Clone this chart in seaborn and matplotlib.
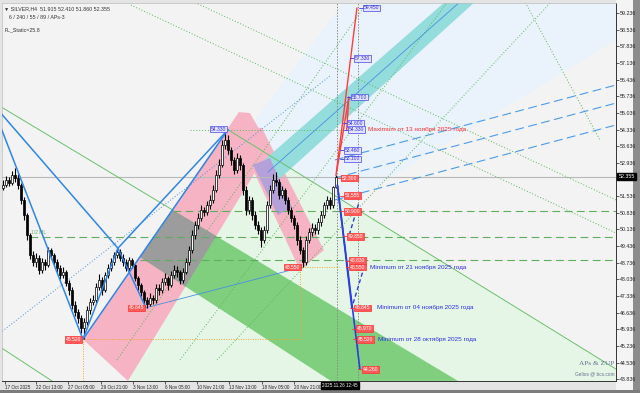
import numpy as np
import pandas as pd
import matplotlib
matplotlib.use("Agg")
import matplotlib.pyplot as plt
import matplotlib.transforms as mtrans
from matplotlib.patches import Polygon, Rectangle
import seaborn as sns

# ---------------- candle data (SILVER, H4) ----------------
closes = [52.01, 52.22, 52.09, 52.43, 52.30, 52.01, 51.38, 50.74, 49.90, 49.06,
          48.77, 48.94, 48.43, 48.77, 48.64, 49.27, 49.06, 48.77, 48.52, 48.22,
          48.35, 47.89, 47.59, 46.96, 46.67, 46.41, 45.99, 46.25, 46.75, 47.09,
          47.17, 47.72, 48.01, 47.59, 48.22, 48.52, 48.77, 49.06, 49.19, 48.94,
          48.77, 48.52, 48.85, 48.64, 48.10, 47.80, 47.51, 47.17, 47.00, 47.26,
          47.17, 47.68, 47.59, 47.93, 48.10, 47.80, 48.22, 48.43, 48.35, 48.01,
          48.35, 48.77, 49.27, 49.90, 50.32, 50.62, 50.95, 50.87, 51.16, 51.38,
          51.80, 52.43, 52.85, 53.69, 53.90, 53.48, 53.06, 52.64, 53.14, 52.85,
          51.80, 50.95, 51.38, 50.74, 50.32, 50.11, 49.69, 50.11, 51.16, 51.80,
          52.22, 52.13, 51.59, 51.80, 51.38, 50.95, 50.62, 50.32, 49.69, 49.27,
          48.77, 49.69, 50.03, 50.20, 50.11, 50.44, 50.74, 51.16, 51.38, 51.16,
          51.915, 52.355]
highs = [52.20, 52.40, 52.35, 52.60, 52.72, 52.45, 52.10, 51.50, 50.85, 50.00,
         49.25, 49.15, 49.05, 48.95, 48.90, 49.40, 49.35, 49.15, 48.90, 48.65,
         48.55, 48.45, 48.00, 47.70, 47.15, 46.80, 46.55, 46.40, 46.90, 47.25,
         47.40, 47.90, 48.25, 48.15, 48.35, 48.70, 48.95, 49.20, 49.35, 49.30,
         49.10, 48.90, 49.00, 48.95, 48.70, 48.20, 47.90, 47.60, 47.30, 47.45,
         47.40, 47.85, 47.85, 48.10, 48.30, 48.20, 48.40, 48.65, 48.60, 48.45,
         48.50, 48.95, 49.45, 50.10, 50.50, 50.85, 51.15, 51.10, 51.35, 51.60,
         52.00, 52.65, 53.10, 53.90, 54.33, 54.10, 53.60, 53.20, 53.35, 53.25,
         52.95, 51.95, 51.55, 51.50, 50.90, 50.50, 50.25, 50.30, 51.35, 52.00,
         52.45, 52.55, 52.25, 51.95, 51.90, 51.50, 51.10, 50.75, 50.45, 49.85,
         49.40, 49.85, 50.20, 50.40, 50.35, 50.60, 50.90, 51.30, 51.55, 51.50,
         51.95, 52.41]
lows = [51.80, 51.92, 51.95, 52.00, 52.15, 51.85, 51.20, 50.55, 49.70, 48.90,
        48.60, 48.55, 48.25, 48.30, 48.45, 48.55, 48.90, 48.60, 48.35, 48.05,
        48.10, 47.75, 47.40, 46.80, 46.50, 46.20, 45.80, 45.52, 46.10, 46.60,
        46.95, 47.05, 47.60, 47.40, 47.50, 48.10, 48.40, 48.65, 48.95, 48.80,
        48.60, 48.40, 48.40, 48.50, 47.95, 47.60, 47.35, 47.00, 46.85, 46.90,
        47.00, 47.05, 47.40, 47.45, 47.80, 47.60, 47.70, 48.10, 48.15, 47.85,
        47.90, 48.25, 48.65, 49.15, 49.75, 50.15, 50.50, 50.70, 50.75, 51.00,
        51.25, 51.70, 52.30, 52.75, 53.50, 53.30, 52.85, 52.45, 52.50, 52.65,
        51.60, 50.75, 50.80, 50.55, 50.15, 49.95, 49.40, 49.55, 50.00, 51.05,
        51.65, 51.95, 51.40, 51.45, 51.20, 50.80, 50.45, 50.15, 49.50, 49.10,
        48.55, 48.65, 49.55, 49.85, 49.95, 49.95, 50.30, 50.60, 51.00, 51.00,
        51.05, 51.86]
first_open = 51.90
last_price = 52.355

price_ticks = [59.236, 58.536, 57.836, 57.136, 56.436, 55.736, 55.036, 54.336,
               53.636, 52.936, 51.536, 50.836, 50.136, 49.436, 48.736, 48.036,
               47.336, 46.636, 45.936, 45.236, 44.536, 43.836]
time_labels = ["17 Oct 2025", "22 Oct 13:00", "27 Oct 05:00", "29 Oct 21:00",
               "3 Nov 13:00", "6 Nov 05:00", "10 Nov 21:00", "13 Nov 13:00",
               "18 Nov 05:00", "20 Nov 21:00"]
time_label_bars = [0.7, 11, 21.7, 32.7, 43.3, 54, 64.7, 75.3, 86.3, 97]
cursor_bar = 106.4
cursor_label = "2025.11.26 12:45"

# ---------------- drawn analysis objects (bar index, price) ----------------
pink_band1 = [(26.67, 45.52), (78.67, 55.07), (82.33, 55.03), (89.0, 53.56), (41.67, 43.77)]
pink_band2 = [(76.33, 54.53), (86.33, 54.40), (107.0, 49.27), (99.0, 48.43)]
green_band = [(56.67, 50.95), (151.67, 43.77), (109.33, 43.77), (45.67, 48.98)]
pale_green = [(75.0, 54.33), (204.33, 44.27), (204.33, 43.77), (41.67, 43.77)]
cyan_band = [(86.33, 52.97), (148.0, 59.78), (158.0, 59.78), (90.67, 52.09)]
lilac_band = [(83.33, 52.85), (89.0, 53.14), (96.33, 51.08), (91.67, 50.74)]
pale_blue = [(79.0, 53.90), (114.0, 59.78), (204.33, 59.78), (204.33, 58.10), (109.0, 50.74)]

zig_bars = [26.67, 38.33, 47.67]
zig_prices = [45.52, 49.35, 46.845]
blue_lines = [[(-1, 54.53), (26.67, 45.52)],
              [(-1, 55.07), (38.33, 49.35)],
              [(26.67, 45.52), (75.0, 54.33)],
              [(38.33, 49.35), (75.0, 54.33)]]
blue_thin = [[(47.67, 46.845), (99.67, 48.55)],
             [(88.33, 52.55), (153.0, 59.78)]]
blue_dashed = [[(110.67, 53.06), (204.33, 56.21)],
               [(110.67, 52.30), (204.33, 55.45)],
               [(110.67, 51.38), (204.33, 54.53)]]
green_dotted = [[(42.67, 59.57), (204.33, 49.99)],
                [(62.33, 59.78), (204.33, 51.38)],
                [(38.0, 44.65), (122.0, 59.78)],
                [(59.0, 44.65), (148.67, 59.78)],
                [(71.33, 44.65), (183.33, 59.78)],
                [(173.67, 59.78), (199.0, 53.90)]]
blue_dotted = [[(-1, 45.78), (109.0, 56.59)]]
green_thin = [[(75.0, 54.33), (204.33, 44.27)],
              [(-1, 55.32), (56.67, 50.95)],
              [(-1, 45.20), (16.33, 43.77)]]
ml_levels = [50.91, 49.82, 48.85]
ml_starts = [56.67, 9.0, 45.67]
orange_path = [(26.67, 43.77), (26.67, 45.52), (99.0, 45.52), (99.0, 48.55)]
orange_tail = [(99.67, 48.55), (112.0, 48.55)]
max_level_line = [(62.3, 54.33), (114.0, 54.33)]
vertical_marks = [111.33, 118.33]

red_rays = [[(111.0, 52.40), (118.0, 59.45)],
            [(111.3, 52.60), (115.3, 55.70)],
            [(115.3, 55.70), (114.6, 54.33)]]
blue_rays = [[(111.5, 52.00), (119.0, 44.26)],
             [(111.5, 52.00), (116.3, 46.845)]]
blue_ray_dashed = [[(118.5, 51.20), (115.3, 49.85)],
                   [(120.5, 48.60), (116.3, 46.845)]]

blue_label_prices = [59.450, 57.330, 55.700, 54.600, 54.330, 53.460, 53.100]
blue_label_bars = [120.3, 117.3, 116.3, 115.0, 115.3, 114.0, 114.0]
red_label_prices = [52.300, 51.555, 50.900, 49.850, 48.830, 48.550, 46.845, 45.970, 45.520, 44.260]
red_label_bars = [113.0, 114.0, 114.0, 115.0, 115.7, 115.7, 117.3, 118.0, 118.3, 120.0]
pivot_labels = ["45.520", "46.845", "48.550"]
pivot_bars = [26.2, 47.2, 99.2]
pivot_prices = [45.52, 46.845, 48.55]
peak_label = ("54.330", 74.4, 54.36)

notes = ["Maximum от 13 ноября 2025 года", "Minimum от 21 ноября 2025 года",
         "Minimum от 04 ноября 2025 года", "Minimum от 28 октября 2025 года"]
note_bars = [121.7, 122.3, 124.7, 125.0]
note_prices = [54.33, 48.55, 46.845, 45.52]
note_colors = ["#FF2B2B", "#2E2EE6", "#2E2EE6", "#2E2EE6"]

# ---------------- figure ----------------
sns.set_theme(style="white")
plt.rcParams['font.family'] = ['Liberation Sans', 'DejaVu Sans']

fig = plt.figure(figsize=(6.4, 3.93), dpi=100, facecolor="#E4E4E4")
ax = fig.add_axes([0.003, 0.0305, 0.9594, 0.9618])
ax.set_facecolor("#F3F3F3")
ax.set_xlim(-0.333, 204.333)
ax.set_ylim(43.766, 59.657)

# frame decorations of the terminal window (behind the axes)
fig.patches.append(Rectangle((616 / 640, 3 / 393), 17 / 640, 390 / 393, transform=fig.transFigure,
                             fc="#F4F4F4", ec="none", zorder=-3))
fig.patches.append(Rectangle((633 / 640, 0), 7 / 640, 1, transform=fig.transFigure,
                             fc="#8C8C8C", ec="none", zorder=-2))
fig.patches.append(Rectangle((0, 0), 1, 3 / 393, transform=fig.transFigure,
                             fc="#7C7C7C", ec="none", zorder=-2))


def poly(pts, color, z, alpha=1.0):
    p = Polygon(pts, closed=True, fc=color, ec="none", zorder=z, alpha=alpha)
    ax.add_patch(p)
    return p


poly(pale_blue, "#EAF3FB", 0.5)
poly(pale_green, "#E6F6E6", 0.6)
pk1 = poly(pink_band1, "#F6B3C3", 1.0)
pk2 = poly(pink_band2, "#F6B3C3", 1.0)
poly(green_band, "#7FCF7F", 1.1)
gray = poly(green_band, "#9C9C9C", 1.2)
gray.set_clip_path(pk1)
poly(cyan_band, "#95DCDC", 1.1)
poly(lilac_band, "#B4A1DA", 1.3)


def seg(pts, **kw):
    xs, ys = zip(*pts)
    ax.plot(xs, ys, **kw)


for L in green_dotted:
    seg(L, color="#59B659", lw=0.7, ls=(0, (1, 2)), zorder=2)
for L in blue_dotted:
    seg(L, color="#4A90E2", lw=0.7, ls=(0, (1, 2)), zorder=2)
for L in green_thin:
    seg(L, color="#6CC06C", lw=0.7, zorder=2)
for L in blue_dashed:
    seg(L, color="#4C9BEA", lw=0.8, ls=(0, (8, 4)), zorder=2)
for L in blue_thin:
    seg(L, color="#4A90E2", lw=0.6, zorder=2)

# horizontal levels
ax.axhline(last_price, color="#B8B8B8", lw=0.8, zorder=1.5)
for lvl, st in zip(ml_levels, ml_starts):
    ax.plot([st, 204.333], [lvl, lvl], color="#5FAE5F", lw=0.8, ls=(0, (7, 4)), zorder=2)
ax.text(9.5, 49.95, "1/2 ML", color="#5FAE5F", fontsize=3.6, zorder=3)
seg(max_level_line, color="#5FB85F", lw=0.7, ls=(0, (1, 2)), zorder=2)
seg(orange_path, color="#F5A623", lw=0.7, ls=(0, (1, 1.5)), zorder=2)
seg(orange_tail, color="#F5A623", lw=0.7, ls=(0, (1, 1.5)), zorder=2)
for vb in vertical_marks:
    ax.axvline(vb, color="#8A8A8A", lw=0.7, ls=(0, (1.5, 1.5)), zorder=2)

# candles
n = len(closes)
opens = [first_open] + closes[:-1]
df = pd.DataFrame(dict(bar=np.arange(n), open=opens, high=highs, low=lows, close=closes))
ax.vlines(df.bar, df.low, df.high, color="black", lw=0.8, zorder=5)
up = df.close >= df.open
ax.bar(df.bar[up], (df.close - df.open)[up], bottom=df.open[up], width=0.72,
       color="white", edgecolor="black", lw=0.5, zorder=6)
ax.bar(df.bar[~up], (df.close - df.open)[~up], bottom=df.open[~up], width=0.72,
       color="black", edgecolor="black", lw=0.5, zorder=6)

# zigzag / pattern lines (seaborn)
zz = pd.DataFrame({"bar": zig_bars, "price": zig_prices})
sns.lineplot(data=zz, x="bar", y="price", sort=False, estimator=None, color="#2F86E8",
             lw=1.1, ax=ax, zorder=7)
for L in blue_lines:
    d = pd.DataFrame(L, columns=["bar", "price"])
    sns.lineplot(data=d, x="bar", y="price", sort=False, estimator=None, color="#2F86E8",
                 lw=1.1, ax=ax, zorder=7)

# projection rays on the right
for L in red_rays:
    seg(L, color="#FF3B3B", lw=1.0, zorder=7)
for L in blue_rays:
    seg(L, color="#2B3FE0", lw=1.2, zorder=7)
for L in blue_ray_dashed:
    seg(L, color="#2B3FE0", lw=1.0, ls=(0, (3, 2)), zorder=7)

lab_kw = dict(fontsize=3.6, va="center", zorder=9)
for b, p in zip(blue_label_bars, blue_label_prices):
    ax.plot([b - 1.5, b], [p, p], color="#3A3AE8", lw=0.6, zorder=8)
    ax.text(b, p, f"{p:.3f}", ha="left", color="#3434D8",
            bbox=dict(boxstyle="square,pad=0.15", fc="#E4E4FF", ec="#4646F0", lw=0.5), **lab_kw)
for b, p in zip(red_label_bars, red_label_prices):
    ax.plot([b - 1.5, b], [p, p], color="#FF3030", lw=0.6, zorder=8)
    ax.text(b, p, f"{p:.3f}", ha="left", color="white",
            bbox=dict(boxstyle="square,pad=0.15", fc="#FF5A5A", ec="#FF3030", lw=0.5), **lab_kw)
for t, b, p in zip(pivot_labels, pivot_bars, pivot_prices):
    ax.text(b, p, t, ha="right", color="white",
            bbox=dict(boxstyle="square,pad=0.15", fc="#FF5A5A", ec="#FF3030", lw=0.5), **lab_kw)
ax.text(peak_label[1], peak_label[2], peak_label[0], ha="right", color="#3434D8",
        bbox=dict(boxstyle="square,pad=0.15", fc="#E4E4FF", ec="#4646F0", lw=0.5), **lab_kw)

for t, b, p, c in zip(notes, note_bars, note_prices, note_colors):
    ax.text(b, p, t, color=c, fontsize=4.6, va="center", ha="left", zorder=9)

# header
ax.text(0.004, 0.992, "\u25bc SILVER,H4  51.915 52.410 51.860 52.355", transform=ax.transAxes,
        fontsize=3.8, va="top", ha="left", color="#333333")
ax.text(0.011, 0.968, "6 / 240 / 55 / 89 / APs-3", transform=ax.transAxes,
        fontsize=3.8, va="top", ha="left", color="#333333")
ax.text(0.004, 0.935, "FL_Static=25.8", transform=ax.transAxes,
        fontsize=3.8, va="top", ha="left", color="#333333")

# watermark
ax.text(0.997, 0.040, "APs & ZUP", transform=ax.transAxes, fontsize=5.2, ha="right",
        va="bottom", color="#61708F", family=["Liberation Serif", "DejaVu Serif"], zorder=9)
ax.text(0.997, 0.012, "Gelios @ bcs.com", transform=ax.transAxes, fontsize=3.4, ha="right",
        va="bottom", color="#61708F", zorder=9)

# axes
ax.yaxis.tick_right()
ax.set_yticks(price_ticks)
ax.set_yticklabels([f"{t:.3f}" for t in price_ticks])
ax.set_xticks(time_label_bars)
ax.set_xticklabels(time_labels)
for lab in ax.get_xticklabels():
    lab.set_ha("left")
ax.tick_params(axis="y", labelsize=3.8, length=2, width=0.5, pad=1, colors="#222222", right=True)
ax.tick_params(axis="x", labelsize=3.3, length=2, width=0.5, pad=1, colors="#222222", bottom=True)
ax.set_xlabel("")
ax.set_ylabel("")
for s in ["right", "bottom"]:
    ax.spines[s].set_color("#333333")
    ax.spines[s].set_linewidth(0.7)
for s in ["left", "top"]:
    ax.spines[s].set_color("#BBBBBB")
    ax.spines[s].set_linewidth(0.5)

tr_y = mtrans.blended_transform_factory(ax.transAxes, ax.transData)
ax.text(1.004, last_price, f"{last_price:.3f}", transform=tr_y, fontsize=3.8, va="center",
        ha="left", color="white", zorder=20, clip_on=False,
        bbox=dict(boxstyle="square,pad=0.2", fc="black", ec="black"))
tr_x = mtrans.blended_transform_factory(ax.transData, ax.transAxes)
ax.text(cursor_bar, -0.006, cursor_label, transform=tr_x, fontsize=3.3, va="top",
        ha="left", color="white", zorder=20, clip_on=False,
        bbox=dict(boxstyle="square,pad=0.2", fc="black", ec="black"))

fig.savefig("out.png", dpi=100, facecolor=fig.get_facecolor())
